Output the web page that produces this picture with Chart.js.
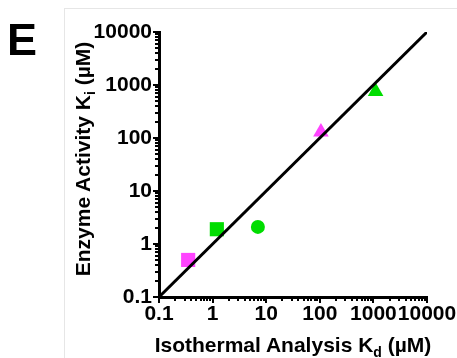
<!DOCTYPE html>
<html>
<head>
<meta charset="utf-8">
<script src="https://cdn.jsdelivr.net/npm/chart.js@4/dist/chart.umd.min.js"></script>
<style>
  body { margin: 0; background: #fff; }
  #wrap { position: relative; width: 457px; height: 358px; overflow: hidden; font-family: "Liberation Sans", Arial, sans-serif; font-weight: bold; color: #000; }
  #frame { position: absolute; left: 64px; top: 8px; width: 400px; height: 360px; border-left: 1px solid #e6e6e6; border-top: 1px solid #e6e6e6; }
  #panel { position: absolute; left: 7px; top: 17px; font-size: 45px; line-height: 45px; }
  .title { position: absolute; font-size: 21px; line-height: 24px; white-space: nowrap; text-align: center; }
  .title sub { font-size: 14px; line-height: 0; vertical-align: -5px; }
  #ytitle { width: 260px; height: 24px; left: -47px; top: 147px; transform: rotate(-90deg); }
  #xtitle { width: 320px; height: 24px; left: 133px; top: 333px; }
  canvas { position: absolute; left: 0; top: 0; }
</style>
</head>
<body>
<div id="wrap">
  <div id="frame"></div>
  <canvas id="kdChart" width="457" height="358"></canvas>
  <div id="panel">E</div>
  <div class="title" id="ytitle">Enzyme Activity K<sub>i</sub> (µM)</div>
  <div class="title" id="xtitle">Isothermal Analysis K<sub>d</sub> (µM)</div>
</div>
<script>
// values
const kdValues = [0.35, 1.2, 7, 105, 1100];
const kiValues = [0.5, 1.9, 2.1, 130, 750];
const identityLine = [0.1, 10000];
const decades = [0.1, 1, 10, 100, 1000, 10000];

// marker look for each point
const markerShapes = ["rect", "rect", "circle", "triangle", "triangle"];
const markerColors = ["#ff44ff", "#00dd00", "#00dd00", "#ff44ff", "#00dd00"];
const markerRadius = [10, 10, 7, 9, 9];

const tickFont = { family: "Liberation Sans", size: 21, weight: "bold" };

const axisTicks = {
  id: "axisTicks",
  afterDraw(chart) {
    const ctx = chart.ctx;
    const xs = chart.scales.x;
    const ys = chart.scales.y;
    ctx.save();
    ctx.strokeStyle = "#000";
    ctx.lineWidth = 2;
    for (let d = 0; d < decades.length; d++) {
      for (let m = 1; m <= 9; m++) {
        const v = decades[d] * m;
        if (v > 10000) break;
        const len = m === 1 ? 6 : 4;
        const px = Math.round(ys.getPixelForValue(v));
        ctx.beginPath();
        ctx.moveTo(ys.right, px);
        ctx.lineTo(ys.right - len, px);
        ctx.stroke();
        const py = Math.round(xs.getPixelForValue(v));
        ctx.beginPath();
        ctx.moveTo(py, xs.top);
        ctx.lineTo(py, xs.top + len);
        ctx.stroke();
      }
    }
    ctx.restore();
  },
};

const points = kdValues.map((x, i) => ({ x: x, y: kiValues[i] }));

new Chart(document.getElementById("kdChart"), {
  type: "scatter",
  data: {
    datasets: [
      {
        data: identityLine.map((v) => ({ x: v, y: v })),
        showLine: true,
        borderColor: "#000",
        borderWidth: 3,
        pointRadius: 0,
      },
      {
        data: points,
        pointStyle: markerShapes,
        backgroundColor: markerColors,
        borderColor: markerColors,
        borderWidth: 0,
        pointRadius: markerRadius,
      },
    ],
  },
  options: {
    responsive: false,
    animation: false,
    layout: { padding: { left: 0, top: 32, right: 30, bottom: 0 } },
    plugins: { legend: { display: false }, tooltip: { enabled: false } },
    scales: {
      x: {
        type: "logarithmic",
        min: 0.1,
        max: 10000,
        afterFit: (scale) => {
          scale.height = 61;
          scale.paddingLeft = 0;
          scale.paddingRight = 0;
        },
        afterBuildTicks: (scale) => { scale.ticks = decades.map((v) => ({ value: v })); },
        grid: { display: false, drawTicks: false },
        border: { display: true, color: "#000", width: 3 },
        ticks: {
          font: tickFont,
          color: "#000",
          padding: 5,
          maxRotation: 0,
          autoSkip: false,
          callback: (v) => String(v),
        },
      },
      y: {
        type: "logarithmic",
        min: 0.1,
        max: 10000,
        afterFit: (scale) => {
          scale.width = 159;
          scale.paddingTop = 0;
          scale.paddingBottom = 0;
        },
        afterBuildTicks: (scale) => { scale.ticks = decades.map((v) => ({ value: v })); },
        grid: { display: false, drawTicks: false },
        border: { display: true, color: "#000", width: 3 },
        ticks: {
          font: tickFont,
          color: "#000",
          padding: 7,
          autoSkip: false,
          callback: (v) => String(v),
        },
      },
    },
  },
  plugins: [axisTicks],
});
</script>
</body>
</html>
